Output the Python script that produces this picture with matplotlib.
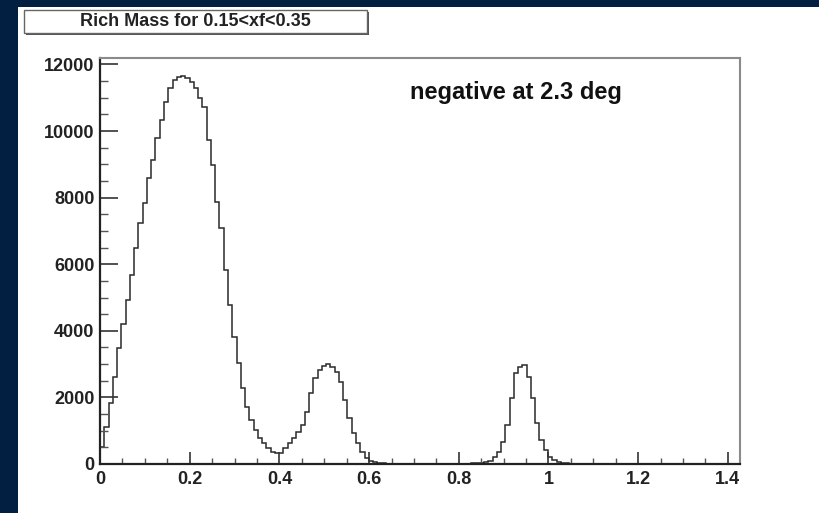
import numpy as np
import matplotlib

matplotlib.use("Agg")
import matplotlib.pyplot as plt
from matplotlib.patches import Rectangle
from matplotlib.ticker import MultipleLocator, FuncFormatter

# histogram range and bin contents
X_MIN, X_MAX = 0.0, 1.427
N_BINS = 150
counts = [
    520, 1120, 1820, 2620, 3470, 4220, 4920, 5670, 6480, 7230,
    7830, 8580, 9120, 9780, 10320, 10870, 11280, 11520, 11620, 11650,
    11580, 11470, 11280, 10980, 10720, 9720, 8970, 7870, 7080, 5820,
    4770, 3820, 3020, 2270, 1720, 1320, 1020, 780, 630, 480,
    370, 320, 320, 480, 630, 780, 970, 1170, 1570, 2130,
    2580, 2820, 2940, 3000, 2920, 2770, 2470, 1920, 1380, 930,
    630, 370, 170, 80, 50, 30, 20, 10, 5, 0,
    0, 0, 0, 0, 0, 0, 0, 0, 0, 0,
    0, 0, 5, 5, 10, 10, 15, 20, 20, 40,
    60, 100, 220, 370, 670, 1170, 1970, 2720, 2920, 2970,
    2620, 1970, 1220, 720, 420, 210, 120, 60, 40, 20,
    10, 5, 0, 0, 0, 0, 0, 0, 0, 0,
    0, 0, 0, 0, 0, 0, 0, 0, 0, 0,
    0, 0, 0, 0, 0, 0, 0, 0, 0, 0,
    0, 0, 0, 0, 0, 0, 0, 0, 0, 0,
]
y_max = 12195
title_text = "Rich Mass for 0.15<xf<0.35"
label_text = "negative at 2.3 deg"

W, H = 820, 513
plt.rcParams["font.family"] = ["Liberation Sans", "DejaVu Sans"]
plt.rcParams["font.weight"] = "bold"

fig = plt.figure(figsize=(W / 100, H / 100), dpi=100, facecolor="#021e40")

# white canvas inside the navy border
fig.patches.append(Rectangle((18 / W, 0), 802 / W, 506 / H, transform=fig.transFigure,
                             facecolor="white", edgecolor="none", zorder=-10))

ax = fig.add_axes([100 / W, 1 - 464 / H, 640 / W, 406 / H])
ax.set_zorder(1)
ax.set_facecolor("white")

edges = np.linspace(X_MIN, X_MAX, N_BINS + 1)
ax.stairs(counts, edges, color="#2a2a2a", linewidth=1.1, baseline=0)

ax.set_xlim(X_MIN, X_MAX)
ax.set_ylim(0, y_max)
ax.xaxis.set_major_locator(MultipleLocator(0.2))
ax.xaxis.set_minor_locator(MultipleLocator(0.05))
ax.yaxis.set_major_locator(MultipleLocator(2000))
ax.yaxis.set_minor_locator(MultipleLocator(500))
ax.xaxis.set_major_formatter(FuncFormatter(lambda v, p: f"{v:g}"))
ax.yaxis.set_major_formatter(FuncFormatter(lambda v, p: f"{int(round(v))}"))

ax.tick_params(axis="x", which="major", direction="in", length=8.5, width=1.2,
               color="#333333", pad=5, labelsize=13, labelcolor="#222222")
ax.tick_params(axis="x", which="minor", direction="in", length=4, width=1.0, color="#555555")
ax.tick_params(axis="y", which="major", direction="in", length=13, width=1.2,
               color="#333333", pad=4, labelsize=13, labelcolor="#222222")
ax.tick_params(axis="y", which="minor", direction="in", length=6, width=1.0, color="#555555")

for side in ("bottom", "left"):
    ax.spines[side].set_color("#222222")
    ax.spines[side].set_linewidth(1.6)
for side in ("top", "right"):
    ax.spines[side].set_color("#8a8a8a")
    ax.spines[side].set_linewidth(1.5)

# title pave with shadow
fig.patches.append(Rectangle((26 / W, 1 - 35 / H), 343 / W, 23 / H, transform=fig.transFigure,
                             facecolor="#555555", edgecolor="none", zorder=2))
fig.patches.append(Rectangle((24 / W, 1 - 33 / H), 343 / W, 23 / H, transform=fig.transFigure,
                             facecolor="white", edgecolor="#666666", linewidth=1.0, zorder=3))
fig.text(195.5 / W, 1 - 21.5 / H, title_text, ha="center", va="center",
         fontsize=13, fontweight="bold", color="#222222", zorder=4)

fig.text(410 / W, 1 - 99 / H, label_text, ha="left", va="baseline",
         fontsize=17, fontweight="bold", color="#111111")

fig.savefig("out.png", dpi=100, facecolor=fig.get_facecolor())
